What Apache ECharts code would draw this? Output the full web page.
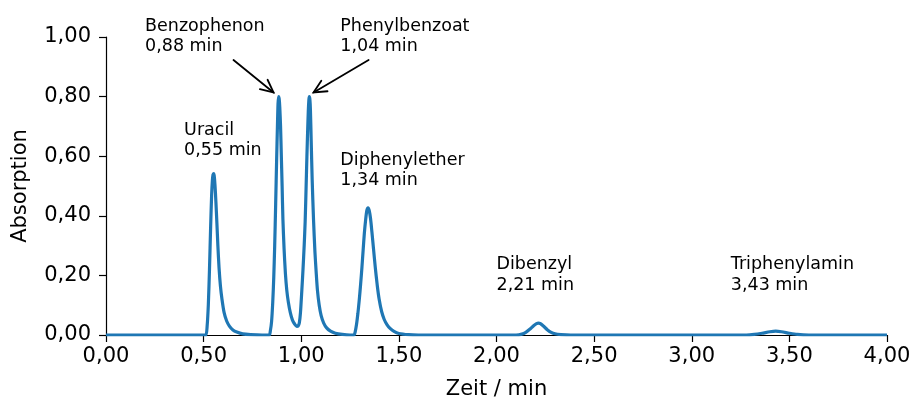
<!DOCTYPE html>
<html>
<head>
<meta charset="utf-8">
<title>Chromatogramm</title>
<script src="https://cdn.jsdelivr.net/npm/echarts@6/dist/echarts.min.js"></script>
<style>
  html, body { margin: 0; padding: 0; background: #ffffff; }
  #chart { width: 914px; height: 400px; }
</style>
</head>
<body>
<div id="chart"></div>
<script>
// Retention time (min) and detector absorption of the chromatogram trace
const zeit = [
  0.000, 0.500,
  // Uracil
  0.512, 0.518, 0.524, 0.530, 0.536, 0.541, 0.545, 0.548, 0.551, 0.554, 0.558, 0.563,
  0.568, 0.573, 0.579, 0.586, 0.594, 0.605, 0.618, 0.632, 0.650, 0.670, 0.700, 0.740, 0.800,
  // Benzophenon / Phenylbenzoat
  0.836, 0.842, 0.848, 0.854, 0.859, 0.864, 0.869, 0.874, 0.878,
  0.881, 0.884, 0.887, 0.890, 0.894, 0.898, 0.902, 0.906,
  0.912, 0.919, 0.926, 0.934, 0.944, 0.955, 0.967, 0.977,
  0.984, 0.990, 0.996, 1.003, 1.009, 1.015, 1.020, 1.025,
  1.029, 1.033, 1.036, 1.039, 1.041, 1.044, 1.047, 1.051,
  1.056, 1.063, 1.070, 1.077, 1.083, 1.092, 1.102, 1.115,
  1.130, 1.150, 1.175, 1.210, 1.250,
  // Diphenylether
  1.270, 1.276, 1.283, 1.290, 1.297, 1.304, 1.311, 1.317, 1.323, 1.330, 1.336, 1.342,
  1.348, 1.355, 1.362, 1.370, 1.379, 1.389, 1.399, 1.412, 1.425, 1.439, 1.455, 1.475,
  1.500, 1.550, 1.600,
  // Dibenzyl
  2.100, 2.130, 2.150, 2.170, 2.190, 2.205, 2.215, 2.225, 2.240, 2.260, 2.280, 2.300,
  2.330, 2.380,
  // Triphenylamin
  3.280, 3.320, 3.360, 3.400, 3.430, 3.460, 3.500, 3.540, 3.600,
  4.000
];
const absorption = [
  0.000, 0.000,
  0.000, 0.030, 0.100, 0.220, 0.365, 0.470, 0.520, 0.538, 0.542, 0.535, 0.505, 0.445,
  0.375, 0.300, 0.225, 0.165, 0.120, 0.075, 0.047, 0.030, 0.017, 0.010, 0.004, 0.0015, 0.000,
  0.000, 0.015, 0.045, 0.110, 0.190, 0.300, 0.440, 0.590, 0.700,
  0.775, 0.800, 0.792, 0.765, 0.700, 0.600, 0.500, 0.390,
  0.290, 0.205, 0.150, 0.110, 0.075, 0.050, 0.036, 0.029,
  0.030, 0.040, 0.075, 0.150, 0.220, 0.300, 0.380, 0.500,
  0.600, 0.690, 0.750, 0.788, 0.800, 0.792, 0.755, 0.650,
  0.520, 0.385, 0.280, 0.205, 0.150, 0.100, 0.065, 0.040,
  0.024, 0.013, 0.006, 0.002, 0.000,
  0.000, 0.010, 0.035, 0.072, 0.117, 0.170, 0.229, 0.285, 0.340, 0.388, 0.418, 0.427,
  0.418, 0.390, 0.345, 0.290, 0.228, 0.168, 0.120, 0.078, 0.052, 0.035, 0.022, 0.012,
  0.005, 0.001, 0.000,
  0.000, 0.003, 0.009, 0.019, 0.031, 0.038, 0.040, 0.038, 0.030, 0.018, 0.009, 0.004,
  0.0015, 0.000,
  0.000, 0.002, 0.006, 0.011, 0.013, 0.011, 0.006, 0.002, 0.000,
  0.000
];

// Peak annotations
const peakNames = ['Uracil', 'Benzophenon', 'Phenylbenzoat', 'Diphenylether', 'Dibenzyl', 'Triphenylamin'];
const retentionTimes = [0.55, 0.88, 1.04, 1.34, 2.21, 3.43];
// anchor of each annotation in data units: left edge, baseline of the last line
const labelAnchors = [[0.40, 0.60], [0.20, 0.95], [1.20, 0.95], [1.20, 0.50], [2.00, 0.15], [3.20, 0.15]];
// arrows in data units: tail x, tail y, tip x, tip y
const arrows = [[0.653, 0.923, 0.858, 0.814], [1.345, 0.923, 1.063, 0.814]];

// Tick labels (German decimal comma)
const xTickLabels = ['0,00', '0,50', '1,00', '1,50', '2,00', '2,50', '3,00', '3,50', '4,00'];
const yTickLabels = ['0,00', '0,20', '0,40', '0,60', '0,80', '1,00'];

const FONT = '"DejaVu Sans", sans-serif';
const fmtMin = v => v.toFixed(2).replace('.', ',') + ' min';

const trace = zeit.map((t, i) => [t, absorption[i]]);
const labelData = labelAnchors.map((a, i) => [a[0], a[1], i]);

const chart = echarts.init(document.getElementById('chart'), null, { renderer: 'canvas' });

const axisCommon = {
  axisLine: { show: true, lineStyle: { color: '#000', width: 1.2 } },
  axisTick: { show: true, inside: false, length: 7, lineStyle: { color: '#000', width: 1.2 } },
  splitLine: { show: false },
  nameTextStyle: { fontFamily: FONT, fontSize: 21, color: '#000' }
};

chart.setOption({
  animation: false,
  backgroundColor: '#ffffff',
  grid: { left: 106, right: 27, top: 37, bottom: 65, containLabel: false, outerBoundsMode: 'none' },
  xAxis: Object.assign({}, axisCommon, {
    type: 'value',
    min: 0, max: 4, interval: 0.5,
    name: 'Zeit / min',
    nameLocation: 'middle',
    nameGap: 44,
    axisLabel: {
      fontFamily: FONT, fontSize: 21, color: '#000', margin: 11,
      formatter: v => xTickLabels[Math.round(v / 0.5)]
    }
  }),
  yAxis: Object.assign({}, axisCommon, {
    type: 'value',
    min: 0, max: 1, interval: 0.2,
    name: 'Absorption',
    nameLocation: 'middle',
    nameGap: 75,
    axisLabel: {
      fontFamily: FONT, fontSize: 21, color: '#000', margin: 15,
      formatter: v => yTickLabels[Math.round(v / 0.2)]
    }
  }),
  series: [
    {
      name: 'Absorption',
      type: 'line',
      data: trace,
      showSymbol: false,
      smooth: 0.25,
      lineStyle: { color: '#1f77b4', width: 3.2 },
      z: 3
    },
    {
      name: 'Pfeile',
      type: 'custom',
      data: arrows,
      encode: { x: [0, 2], y: [1, 3] },
      silent: true,
      z: 4,
      renderItem: (params, api) => {
        const a = api.coord([api.value(0), api.value(1)]);
        const b = api.coord([api.value(2), api.value(3)]);
        const ang = Math.atan2(b[1] - a[1], b[0] - a[0]);
        const L = 14, spread = 0.45;
        const h1 = [b[0] - L * Math.cos(ang - spread), b[1] - L * Math.sin(ang - spread)];
        const h2 = [b[0] - L * Math.cos(ang + spread), b[1] - L * Math.sin(ang + spread)];
        const st = { stroke: '#000', lineWidth: 1.8, fill: null, lineCap: 'round', lineJoin: 'miter' };
        return {
          type: 'group',
          children: [
            { type: 'line', shape: { x1: a[0], y1: a[1], x2: b[0], y2: b[1] }, style: st },
            { type: 'polyline', shape: { points: [h1, b, h2] }, style: st }
          ]
        };
      }
    },
    {
      name: 'Peaks',
      type: 'custom',
      data: labelData,
      encode: { x: 0, y: 1 },
      silent: true,
      z: 5,
      renderItem: (params, api) => {
        const p = api.coord([api.value(0), api.value(1)]);
        const i = api.value(2);
        return {
          type: 'text',
          x: p[0],
          y: p[1] + 5,
          style: {
            text: peakNames[i] + '\n' + fmtMin(retentionTimes[i]),
            fontFamily: FONT,
            fontSize: 17.5,
            lineHeight: 20.5,
            fill: '#000',
            align: 'left',
            verticalAlign: 'bottom'
          }
        };
      }
    }
  ]
});
</script>
</body>
</html>
